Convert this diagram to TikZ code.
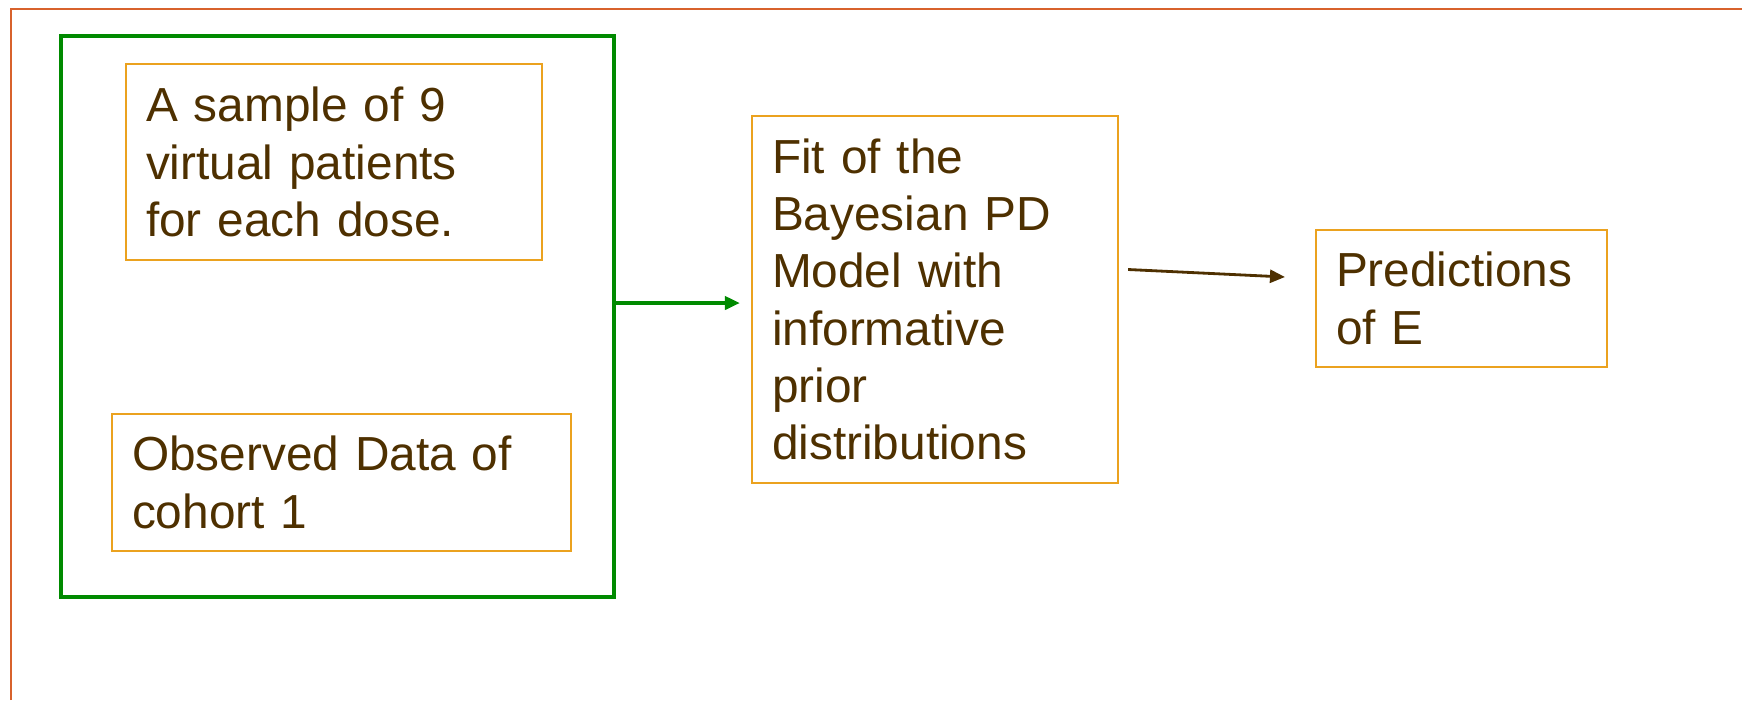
\documentclass[tikz,border=0pt]{standalone}
\usepackage{fontspec}
\setmainfont{Liberation Sans}
\usetikzlibrary{arrows.meta}

\definecolor{framered}{HTML}{D8622C}
\definecolor{groupgreen}{HTML}{008A00}
\definecolor{boxorange}{HTML}{EBA21F}
\definecolor{textbrown}{HTML}{4E3000}

\begin{document}
\begin{tikzpicture}[
    stagebox/.style={draw=boxorange, line width=0.6pt, text=textbrown, align=left,
        inner xsep=0.2cm, inner ysep=0.05cm, font=\fontsize{13.6}{16.3}\selectfont},
    groupbox/.style={draw=groupgreen, line width=1.1pt},
    link/.style={-{Triangle[length=0.15cm,width=0.13cm]}, line width=0.8pt}
]
    \useasboundingbox (0,0) rectangle (17.42,7);

    % Slide frame
    \draw[framered, line width=0.6pt] (0.11,0) |- (17.42,6.91);

    % Input data
    \node[groupbox, minimum width=5.53cm, minimum height=5.61cm] (inputs) at (3.375,3.835) {};
    \node[stagebox, minimum width=4.16cm, minimum height=1.96cm, text width=3.76cm] (sample) at (3.34,5.38)
        {A sample of 9\\virtual patients\\for each dose.};
    \node[stagebox, minimum width=4.59cm, minimum height=1.37cm, text width=4.19cm] (observed) at (3.415,2.175)
        {Observed Data of\\cohort 1};

    % Model fit
    \node[stagebox, minimum width=3.66cm, minimum height=3.67cm, text width=3.26cm] (fit) at (9.35,4.005)
        {Fit of the\\Bayesian PD\\Model with\\informative\\prior\\distributions};

    % Predictions
    \node[stagebox, minimum width=2.91cm, minimum height=1.37cm, text width=2.51cm] (pred) at (14.615,4.015)
        {Predictions\\of E};

    % Arrows
    \draw[link, groupgreen, line width=1.1pt, shorten >=0.11cm] (inputs.east |- 0,3.97) -- (fit.west |- 0,3.97);
    \draw[link, textbrown] ([shift={(0.09,0.30)}]fit.east) -- ([shift={(-0.30,0.215)}]pred.west);

\end{tikzpicture}
\end{document}
